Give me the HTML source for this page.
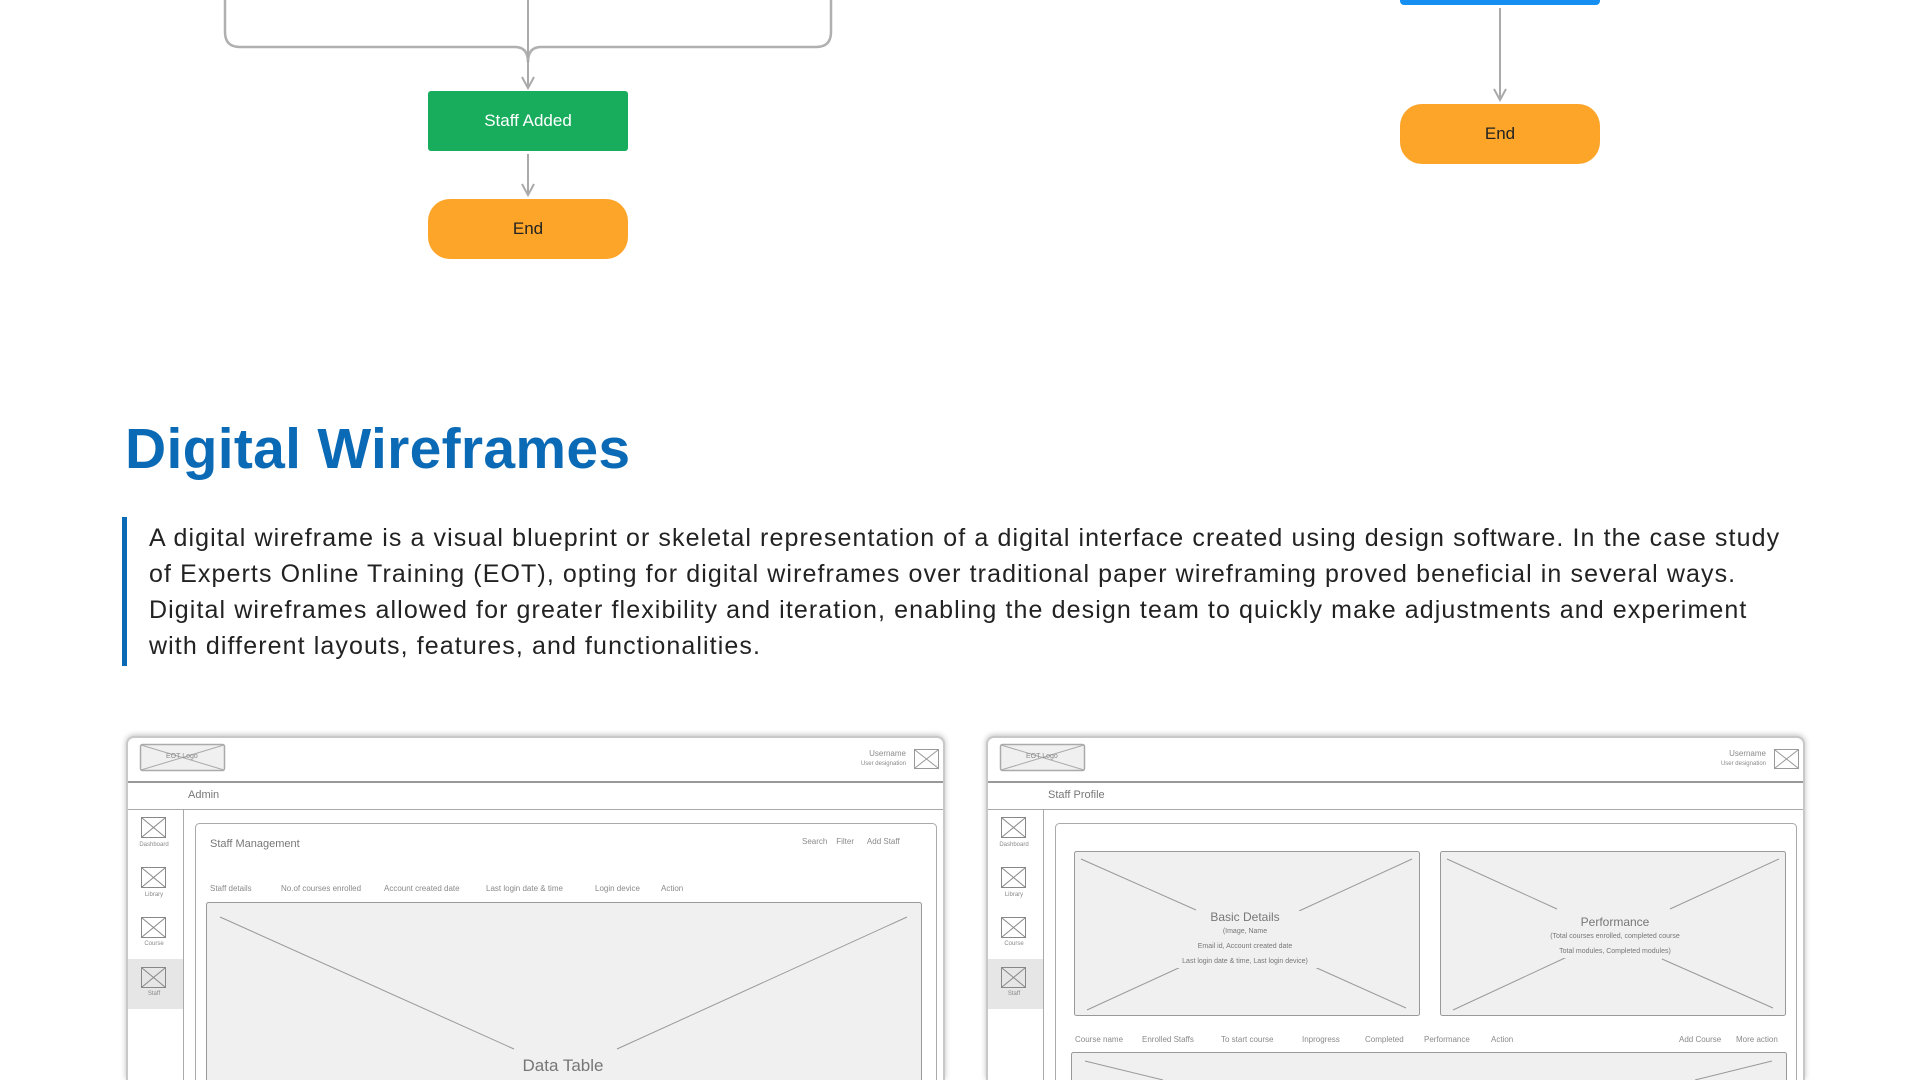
<!DOCTYPE html>
<html><head><meta charset="utf-8">
<style>
*{margin:0;padding:0;box-sizing:border-box}
html,body{width:1920px;height:1080px;overflow:hidden}
body{background:#fff;position:relative;font-family:"Liberation Sans",sans-serif}
.abs{position:absolute}
.node{position:absolute;display:flex;align-items:center;justify-content:center;font-size:17px}
.wf{font-family:"Liberation Sans Narrow","Liberation Sans",sans-serif;color:#8a8a8a;position:absolute;white-space:nowrap}
.card{position:absolute;border:2px solid #c8c8c8;border-bottom:none;border-radius:8px 8px 0 0;background:#fff;box-shadow:0 -1px 6px rgba(0,0,0,.25);overflow:hidden}
</style></head><body>

<svg class="abs" style="left:0;top:0" width="1920" height="300">
 <path d="M225,0 V32 Q225,47 240,47 H515 Q528,47 528,62" fill="none" stroke="#b0b0b0" stroke-width="2.5"/>
 <path d="M831,0 V32 Q831,47 816,47 H541 Q528,47 528,62" fill="none" stroke="#b0b0b0" stroke-width="2.5"/>
 <line x1="528" y1="0" x2="528" y2="87" stroke="#aaa" stroke-width="2"/>
 <path d="M522,77 L528,88 L534,77" fill="none" stroke="#aaa" stroke-width="2"/>
 <line x1="528" y1="154" x2="528" y2="195" stroke="#aaa" stroke-width="2"/>
 <path d="M522,184 L528,195 L534,184" fill="none" stroke="#aaa" stroke-width="2"/>
 <line x1="1500" y1="8" x2="1500" y2="100" stroke="#aaa" stroke-width="2"/>
 <path d="M1494,89 L1500,100 L1506,89" fill="none" stroke="#aaa" stroke-width="2"/>
 <rect x="1400" y="-10" width="200" height="15" rx="4" fill="#1590f2"/>
</svg>
<div class="node" style="left:428px;top:91px;width:200px;height:60px;background:#17ad5c;color:#fff;border-radius:3px">Staff Added</div>
<div class="node" style="left:428px;top:199px;width:200px;height:60px;background:#fda529;color:#222;border-radius:22px">End</div>
<div class="node" style="left:1400px;top:104px;width:200px;height:60px;background:#fda529;color:#222;border-radius:22px">End</div>

<div class="abs" style="left:125px;top:416px;font-size:57px;font-weight:bold;color:#0b6ab5;letter-spacing:0.3px">Digital Wireframes</div>
<div class="abs" style="left:122px;top:517px;width:5px;height:149px;background:#0b6ab5"></div>
<div class="abs" style="left:149px;top:520px;font-size:25px;line-height:36px;color:#222;white-space:nowrap;letter-spacing:1.1px">
A digital wireframe is a visual blueprint or skeletal representation of a digital interface created using design software. In the case study<br>
of Experts Online Training (EOT), opting for digital wireframes over traditional paper wireframing proved beneficial in several ways.<br>
Digital wireframes allowed for greater flexibility and iteration, enabling the design team to quickly make adjustments and experiment<br>
with different layouts, features, and functionalities.</div>

<div class="card" style="left:126px;top:736px;width:819px;height:344px">
 <div class="abs" style="left:0;top:43px;width:100%;border-top:2px solid #999"></div>
 <div class="abs" style="left:0;top:71px;width:100%;border-top:1px solid #aaa"></div>
 <div class="abs" style="left:55px;top:72px;width:1px;height:300px;background:#aaa"></div>
 <div class="abs" style="left:0;top:221px;width:55px;height:50px;background:#e6e6e6"></div>
</div>
<div class="card" style="left:986px;top:736px;width:819px;height:344px">
 <div class="abs" style="left:0;top:43px;width:100%;border-top:2px solid #999"></div>
 <div class="abs" style="left:0;top:71px;width:100%;border-top:1px solid #aaa"></div>
 <div class="abs" style="left:55px;top:72px;width:1px;height:300px;background:#aaa"></div>
 <div class="abs" style="left:0;top:221px;width:55px;height:50px;background:#e6e6e6"></div>
</div>

<svg class="abs" style="left:0;top:0" width="1920" height="1080" fill="none" stroke="#999" stroke-width="1">
 <g id="L">
  <rect x="140.5" y="744.5" width="84" height="26" rx="2" fill="#f0f0f0" stroke="#aaa" stroke-width="1.5"/>
  <path d="M141,745 L224,770 M224,745 L141,770" stroke="#aaa"/>
  <rect x="914.5" y="749.5" width="24" height="19" fill="#fff"/><path d="M915,750 L938,768 M938,750 L915,768"/>
  <g stroke="#888">
   <rect x="141.5" y="817.5" width="24" height="20"/><path d="M142,818 L165,837 M165,818 L142,837"/>
   <rect x="141.5" y="867.5" width="24" height="20"/><path d="M142,868 L165,887 M165,868 L142,887"/>
   <rect x="141.5" y="917.5" width="24" height="20"/><path d="M142,918 L165,937 M165,918 L142,937"/>
   <rect x="141.5" y="967.5" width="24" height="20"/><path d="M142,968 L165,987 M165,968 L142,987"/>
  </g>
 </g>
 <use href="#L" x="860" y="0"/>
 <rect x="195.5" y="823.5" width="741" height="300" rx="4" stroke="#aaa"/>
 <rect x="206.5" y="902.5" width="715" height="200" rx="2" fill="#f0f0f0" stroke="#999"/>
 <path d="M220,917 L514,1049 M907,917 L617,1049"/>
 <rect x="1055.5" y="823.5" width="741" height="300" rx="4" stroke="#aaa"/>
 <rect x="1074.5" y="851.5" width="345" height="164" rx="2" fill="#f0f0f0" stroke="#999"/>
 <path d="M1081,859 L1196,910 M1412,859 L1299,911 M1087,1010 L1196,960 M1406,1008 L1299,960"/>
 <rect x="1440.5" y="851.5" width="345" height="164" rx="2" fill="#f0f0f0" stroke="#999"/>
 <path d="M1447,859 L1557,909 M1779,859 L1670,909 M1453,1010 L1567,957 M1773,1008 L1662,959"/>
 <rect x="1071.5" y="1052.5" width="715" height="100" rx="2" fill="#f0f0f0" stroke="#999"/>
 <path d="M1085,1061 L1163,1080 M1772,1061 L1695,1080"/>
</svg>

<div class="wf" style="left:166px;top:753px;font-size:7px">EOT Logo</div>
<div class="wf" style="left:1026px;top:753px;font-size:7px">EOT Logo</div>
<div class="wf" style="left:850px;top:749px;font-size:8px;text-align:right;width:56px;line-height:9px">Username<br><span style="font-size:6px">User designation</span></div>
<div class="wf" style="left:1710px;top:749px;font-size:8px;text-align:right;width:56px;line-height:9px">Username<br><span style="font-size:6px">User designation</span></div>
<div class="wf" style="left:188px;top:789px;font-size:11px;color:#777">Admin</div>
<div class="wf" style="left:1048px;top:789px;font-size:11px;color:#777">Staff Profile</div>
<div class="wf" style="left:137px;top:842px;font-size:6px;width:34px;text-align:center">Dashboard</div>
<div class="wf" style="left:137px;top:892px;font-size:6px;width:34px;text-align:center">Library</div>
<div class="wf" style="left:137px;top:941px;font-size:6px;width:34px;text-align:center">Course</div>
<div class="wf" style="left:137px;top:991px;font-size:6px;width:34px;text-align:center">Staff</div>
<div class="wf" style="left:997px;top:842px;font-size:6px;width:34px;text-align:center">Dashboard</div>
<div class="wf" style="left:997px;top:892px;font-size:6px;width:34px;text-align:center">Library</div>
<div class="wf" style="left:997px;top:941px;font-size:6px;width:34px;text-align:center">Course</div>
<div class="wf" style="left:997px;top:991px;font-size:6px;width:34px;text-align:center">Staff</div>

<div class="wf" style="left:210px;top:838px;font-size:11px;color:#777">Staff Management</div>
<div class="wf" style="left:802px;top:837px;font-size:8px">Search &nbsp;&nbsp; Filter &nbsp;&nbsp;&nbsp;&nbsp; Add Staff</div>
<div class="wf" style="left:210px;top:884px;font-size:8px">Staff details</div>
<div class="wf" style="left:281px;top:884px;font-size:8px">No.of courses enrolled</div>
<div class="wf" style="left:384px;top:884px;font-size:8px">Account created date</div>
<div class="wf" style="left:486px;top:884px;font-size:8px">Last login date &amp; time</div>
<div class="wf" style="left:595px;top:884px;font-size:8px">Login device</div>
<div class="wf" style="left:661px;top:884px;font-size:8px">Action</div>
<div class="wf" style="left:503px;top:1056px;font-size:17px;color:#777;width:120px;text-align:center">Data Table</div>

<div class="wf" style="left:1150px;top:911px;font-size:12px;color:#777;width:190px;text-align:center;line-height:12px;background:#f0f0f0">Basic Details<br><span style="font-size:7px;line-height:12px">(Image, Name<br>Email id, Account created date<br>Last login date &amp; time, Last login device)</span></div>
<div class="wf" style="left:1530px;top:916px;font-size:12px;color:#777;width:170px;text-align:center;line-height:12px;background:#f0f0f0">Performance<br><span style="font-size:7px;line-height:12px">(Total courses enrolled, completed course<br>Total modules, Completed modules)</span></div>

<div class="wf" style="left:1075px;top:1035px;font-size:8px">Course name</div>
<div class="wf" style="left:1142px;top:1035px;font-size:8px">Enrolled Staffs</div>
<div class="wf" style="left:1221px;top:1035px;font-size:8px">To start course</div>
<div class="wf" style="left:1302px;top:1035px;font-size:8px">Inprogress</div>
<div class="wf" style="left:1365px;top:1035px;font-size:8px">Completed</div>
<div class="wf" style="left:1424px;top:1035px;font-size:8px">Performance</div>
<div class="wf" style="left:1491px;top:1035px;font-size:8px">Action</div>
<div class="wf" style="left:1679px;top:1035px;font-size:8px">Add Course</div>
<div class="wf" style="left:1736px;top:1035px;font-size:8px">More action</div>
</body></html>
